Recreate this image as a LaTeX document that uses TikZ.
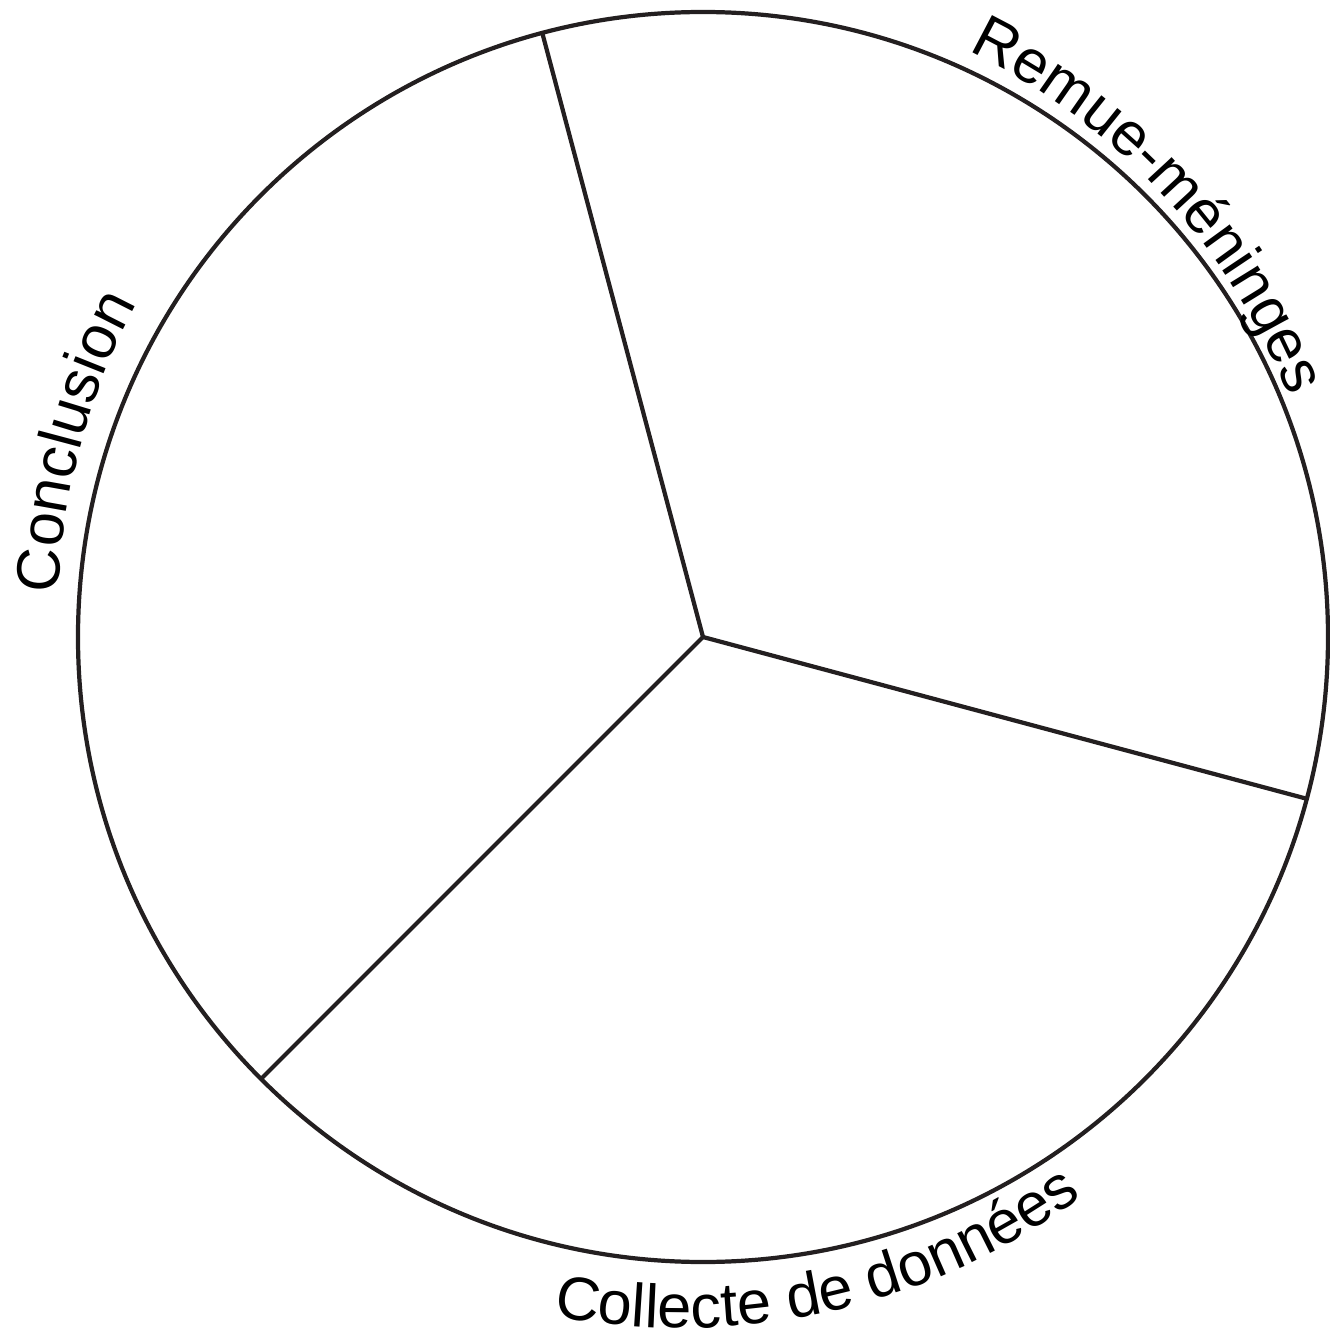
\documentclass[tikz,border=0pt]{standalone}
\usepackage{fontspec}
\setmainfont{Liberation Sans}
\usetikzlibrary{decorations.text}
\definecolor{ringline}{HTML}{231F20}
\newcommand{\phasefont}{\fontsize{17.4}{20}\selectfont}

\begin{document}
\begin{tikzpicture}[x=0.01cm,y=0.01cm,
  ring/.style={draw=ringline,line width=1.2pt},
  phaselabel/.style={decorate,decoration={text along path,text align=left,text={|\phasefont|#1}}}]
%1 Einheit = 1 Pixel der Vorlage, Mittelpunkt bei (703,637)
  \pgfmathsetmacro{\R}{625}
  \useasboundingbox (-703,-699) rectangle (626,637);
  \coordinate (centre) at (0,0);
  \draw[ring] (centre) circle[radius=\R];
  \foreach \w in {104.9,-15,225}{
    \draw[ring,line join=miter] (centre) -- (\w:\R);
  }
%Beschriftungen entlang leicht versetzter Kreisboegen
  \coordinate (remuecentre) at (-14.4,4.9);
  \coordinate (conclcentre) at (5.9,24.7);
  \coordinate (collectecentre) at (-21.3,-17.1);
  \path[phaselabel=Remue-méninges] ([shift={(64.3:645)}]remuecentre) arc[start angle=64.3, end angle=0, radius=645];
  \path[phaselabel=Conclusion] ([shift={(178.3:650)}]conclcentre) arc[start angle=178.3, end angle=120, radius=650];
  \path[phaselabel=Collecte de données] ([shift={(259:674)}]collectecentre) arc[start angle=259, end angle=330, radius=674];
\end{tikzpicture}
\end{document}
